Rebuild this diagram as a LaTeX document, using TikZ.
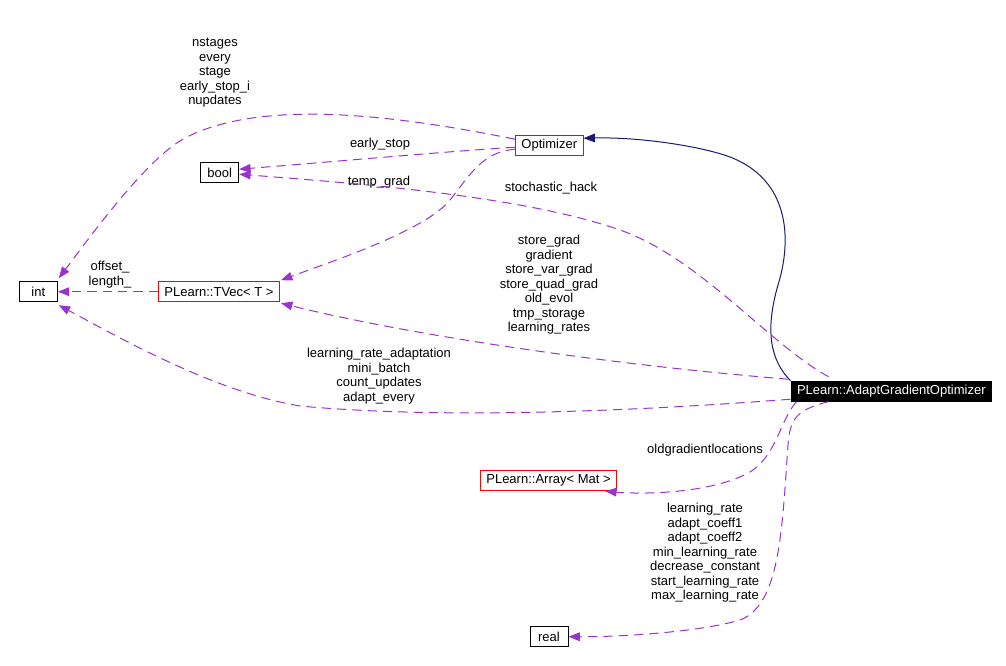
\documentclass[tikz,border=0pt]{standalone}
\usepackage{fontspec}
\setmainfont{Liberation Sans}
\usepackage{tikz}
\usetikzlibrary{arrows.meta, calc}
\definecolor{dgpurple}{HTML}{9A32CD}
\definecolor{dgnavy}{HTML}{191970}
\newcommand\dgfont{\fontsize{9.75}{10.9}\selectfont}
\tikzset{
  cls/.style={draw=black, line width=0.75pt, font=\dgfont, inner xsep=4.5pt, inner ysep=0pt,
    minimum width=28.5pt, minimum height=15pt},
  tmpl/.style={cls, draw=red},
  focus/.style={cls, fill=black, text=white},
  member/.style={draw=dgpurple, line width=0.75pt, dash pattern=on 7pt off 4.5pt,
    -{Triangle[length=8.5pt, width=6.5pt]}},
  inherit/.style={draw=dgnavy, line width=0.75pt, -{Triangle[length=8.5pt, width=6.5pt]}},
  lbl/.style={font=\dgfont, align=center, inner sep=0pt}
}
\begin{document}
\begin{tikzpicture}[x=0.75pt, y=-0.75pt]
\useasboundingbox (0,0) rectangle (1006,666);
% classes
\node[cls] (int) at (38.3,291.7) {int};
\node[cls] (bool) at (219.7,172.7) {bool};
\node[tmpl] (opt) at (549.3,145.2) {Optimizer};
\node[tmpl] (tvec) at (219,291.7) {PLearn::TVec< T >};
\node[focus] (agopt) at (891.3,391.2) {PLearn::AdaptGradientOptimizer};
\node[tmpl] (arr) at (548.5,480.7) {PLearn::Array< Mat >};
\node[cls] (real) at (549,636.7) {real};
% member labels
\node[lbl] (l-int1) at (215,73) {nstages\\every\\stage\\early\_stop\_i\\nupdates};
\node[lbl] (l-bool1) at (380,144.5) {early\_stop};
\node[lbl] (l-tvec1) at (379,182.5) {temp\_grad};
\node[lbl] (l-bool2) at (551,188.5) {stochastic\_hack};
\node[lbl] (l-tvec2) at (549,285) {store\_grad\\gradient\\store\_var\_grad\\store\_quad\_grad\\old\_evol\\tmp\_storage\\learning\_rates};
\node[lbl] (l-int2) at (110,274.5) {offset\_\\length\_};
\node[lbl] (l-int3) at (379,376) {learning\_rate\_adaptation\\mini\_batch\\count\_updates\\adapt\_every};
\node[lbl] (l-arr) at (705,450.5) {oldgradientlocations};
\node[lbl] (l-real) at (705,553) {learning\_rate\\adapt\_coeff1\\adapt\_coeff2\\min\_learning\_rate\\decrease\_constant\\start\_learning\_rate\\max\_learning\_rate};
% inheritance
\draw[inherit] (agopt.north west) .. controls (770,360) and (765,330) .. (778,285)
  .. controls (792,240) and (790,180) .. (730,157)
  .. controls (700,146) and (640,137) .. ($(opt.east)+(0,-7)$);
% usage
\draw[member] ($(opt.west)+(0,-6)$) .. controls (400,116) and (265,98) .. (187,137)
  .. controls (150,155) and (95,230) .. ($(int.north east)+(1,-3)$);
\draw[member] ($(opt.west)+(0,2)$) .. controls (440,152) and (330,162) .. ($(bool.east)+(0,-3.5)$);
\draw[member] ($(opt.west)+(0,4)$) .. controls (482,152) and (470,175) .. (450,200)
  .. controls (425,231) and (330,262) .. ($(tvec.north east)+(1,-1)$);
\draw[member] ($(agopt.north west)+(38,-4)$) .. controls (770,345) and (700,258) .. (620,230)
  .. controls (520,195) and (350,183) .. ($(bool.east)+(0,1.5)$);
\draw[member] ($(agopt.west)+(-2,-12)$) .. controls (600,364) and (400,333) .. ($(tvec.south east)+(1,1)$);
\draw[member] (tvec.west) -- (int.east);
\draw[member] ($(agopt.west)+(0,8)$) .. controls (650,410) and (450,420) .. (300,406)
  .. controls (215,392) and (120,338) .. ($(int.south east)+(1,3)$);
\draw[member] ($(agopt.south west)+(6,0)$) .. controls (780,420) and (777,455) .. (750,472)
  .. controls (715,492) and (650,495) .. ($(arr.south east)+(-12,0)$);
\draw[member] ($(agopt.south west)+(38,0)$) .. controls (795,410) and (790,420) .. (788,445)
  .. controls (782,530) and (780,605) .. (740,620)
  .. controls (700,632) and (620,637) .. (real.east);
\end{tikzpicture}
\end{document}
